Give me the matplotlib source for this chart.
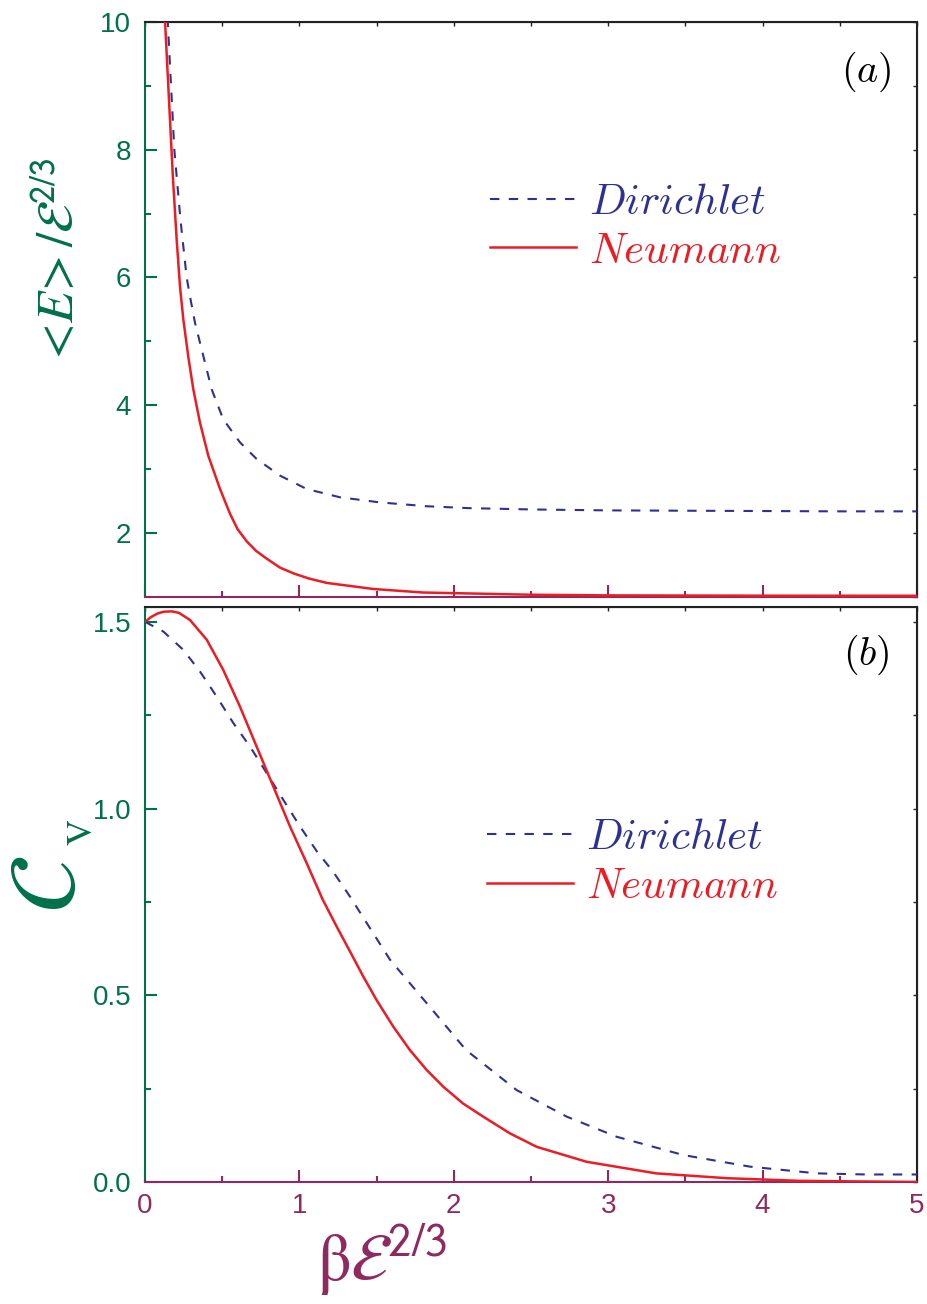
import numpy as np
import matplotlib
matplotlib.use('Agg')
import matplotlib.pyplot as plt
from matplotlib.ticker import MultipleLocator, FormatStrFormatter
from matplotlib.font_manager import FontProperties

# ------------------------------------------------------------------------------------------
# data

# (a) mean energy <E>/eps^(2/3) vs beta*eps^(2/3)
x_e_dir = [0.135, 0.149, 0.19, 0.23, 0.27, 0.291, 0.324, 0.378, 0.432, 0.507, 0.615, 0.723,
           0.874, 1.047, 1.263, 1.522, 1.824, 2.1, 2.5, 3.0, 3.5, 4.0, 4.5, 5.0]
e_dir = [10.6, 9.93, 8.0, 6.9, 6.0, 5.71, 5.29, 4.77, 4.25, 3.78, 3.42, 3.16,
         2.90, 2.69, 2.56, 2.48, 2.42, 2.39, 2.37, 2.355, 2.35, 2.345, 2.34, 2.34]

x_e_neu = [0.11, 0.13, 0.155, 0.18, 0.205, 0.227, 0.248, 0.281, 0.313, 0.356, 0.41, 0.486,
           0.551, 0.60, 0.659, 0.72, 0.788, 0.874, 0.961, 1.06, 1.177, 1.479, 1.80, 2.1,
           2.5, 3.0, 4.0, 5.0]
e_neu = [11.2, 10.0, 8.8, 7.6, 6.6, 5.85, 5.35, 4.75, 4.25, 3.73, 3.21, 2.69,
         2.30, 2.06, 1.87, 1.72, 1.60, 1.46, 1.37, 1.29, 1.22, 1.125, 1.07, 1.055,
         1.035, 1.025, 1.02, 1.019]

# (b) heat capacity C_V vs beta*eps^(2/3)
x_c_dir = [0, 0.119, 0.248, 0.356, 0.464, 0.572, 0.68, 0.788, 0.896, 1.004, 1.112,
           1.22, 1.328, 1.587, 1.824, 2.08, 2.407, 2.731, 3.055, 3.487, 3.918, 4.35, 4.67, 5.0]
c_dir = [1.5, 1.474, 1.425, 1.367, 1.30, 1.229, 1.166, 1.095, 1.023, 0.952, 0.886,
         0.83, 0.764, 0.595, 0.479, 0.353, 0.246, 0.175, 0.121, 0.072, 0.041, 0.023, 0.02, 0.02]

x_c_neu = [0, 0.04, 0.08, 0.12, 0.173, 0.22, 0.291, 0.4, 0.507, 0.615, 0.723, 0.831,
           0.939, 1.047, 1.15, 1.24, 1.328, 1.41, 1.5, 1.608, 1.716, 1.824, 1.932, 2.06,
           2.19, 2.364, 2.537, 2.86, 3.31, 3.77, 4.24, 4.7, 5.0]
c_neu = [1.5, 1.513, 1.522, 1.527, 1.528, 1.524, 1.505, 1.452, 1.371, 1.273, 1.166, 1.059,
         0.952, 0.854, 0.757, 0.685, 0.617, 0.553, 0.487, 0.416, 0.353, 0.30, 0.255, 0.21,
         0.175, 0.13, 0.094, 0.054, 0.023, 0.010, 0.003, 0.001, 0.0]

labels = ['$Dirichlet$', '$Neumann$']

# ------------------------------------------------------------------------------------------
# colours and fonts

green = '#00714a'
purple = '#90295f'
blue = '#2e3192'
red = '#ed1c24'

plt.rcParams['font.family'] = ['Liberation Sans', 'DejaVu Sans']
plt.rcParams['mathtext.fontset'] = 'stix'

fig = plt.figure(figsize=(9.27, 13.04), dpi=100)
ax1 = fig.add_axes([0.1564, 0.5422, 0.8328, 0.4410])
ax2 = fig.add_axes([0.1564, 0.0936, 0.8328, 0.4410])

# ------------------------------------------------------------------------------------------
# axis styling shared by both panels

def style(ax, ylim, ymaj, ymin, show_x):
    ax.set_xlim(0, 5)
    ax.set_ylim(*ylim)
    ax.spines['left'].set_color(green)
    ax.spines['bottom'].set_color(purple)
    ax.spines['top'].set_color('#222222')
    ax.spines['right'].set_color('#222222')
    for s in ax.spines.values():
        s.set_linewidth(1.5)

    ax.xaxis.set_major_locator(MultipleLocator(1))
    ax.xaxis.set_minor_locator(MultipleLocator(0.5))
    ax.yaxis.set_major_locator(MultipleLocator(ymaj))
    ax.yaxis.set_minor_locator(MultipleLocator(ymin))

    ax.tick_params(axis='x', which='both', direction='in', colors=purple, width=1.5,
                   labelsize=20, pad=8, top=False)
    ax.tick_params(axis='y', which='both', direction='in', colors=green, width=1.5,
                   labelsize=20, pad=10, right=False)
    ax.tick_params(which='major', length=8.5)
    ax.tick_params(which='minor', length=4.5)
    if not show_x:
        ax.tick_params(axis='x', labelbottom=False)

    # small black ticks on the top and right frame
    top = ax.secondary_xaxis('top')
    top.set_xticks(np.arange(0, 5.01, 0.5))
    top.tick_params(direction='in', length=3, width=1, colors='#222222', labeltop=False)
    right = ax.secondary_yaxis('right')
    right.set_yticks(np.arange(ylim[0], ylim[1] + 1e-9, ymin))
    right.tick_params(direction='in', length=3, width=1, colors='#222222', labelright=False)


def legend(ax, anchor):
    leg = ax.legend(labels, loc='center left', bbox_to_anchor=anchor, frameon=False,
                    prop=FontProperties(size=31, math_fontfamily='cm'),
                    labelcolor='linecolor', handlelength=2.0, handletextpad=0.3,
                    labelspacing=0.2, borderpad=0, borderaxespad=0)
    return leg

# ------------------------------------------------------------------------------------------
# panel (a)

ax1.plot(x_e_dir, e_dir, color=blue, lw=1.5, ls=(0, (4.5, 4.5)), zorder=3)
ax1.plot(x_e_neu, e_neu, color=red, lw=1.8, zorder=3)
style(ax1, (1, 10), 2, 1, False)
legend(ax1, (0.447, 0.643))
ax1.text(0.934, 0.913, r'$(a)$', transform=ax1.transAxes, ha='center', va='center',
         fontsize=29, math_fontfamily='cm')

# panel (b)

ax2.plot(x_c_dir, c_dir, color=blue, lw=1.5, ls=(0, (4.5, 4.5)), zorder=3)
ax2.plot(x_c_neu, c_neu, color=red, lw=1.8, zorder=3)
style(ax2, (0, 1.54), 0.5, 0.25, True)
ax2.yaxis.set_major_formatter(FormatStrFormatter('%.1f'))
legend(ax2, (0.443, 0.555))
ax2.text(0.934, 0.917, r'$(b)$', transform=ax2.transAxes, ha='center', va='center',
         fontsize=29, math_fontfamily='cm')

# ------------------------------------------------------------------------------------------
# axis titles

fig.text(60 / 927, 1 - 262 / 1304, r'$<\!E\!>/\mathcal{E}^{\mathsf{2/3}}$', rotation=90,
         color=green, fontsize=37, ha='center', va='center')
# C_V drawn as big script C plus a small V subscript
fig.text(50 / 927, 1 - 884 / 1304, r'$\mathcal{C}$', rotation=90,
         color=green, fontsize=68, ha='center', va='center')
fig.text(83 / 927, 1 - 832 / 1304, r'$\mathrm{V}$', rotation=90,
         color=green, fontsize=26, ha='center', va='center')
fig.text(382 / 927, 1 - 1260 / 1304, r'$\mathrm{\beta}\mathcal{E}^{\mathsf{2/3}}$',
         color=purple, fontsize=48, ha='center', va='center')

fig.savefig('out.png', dpi=100)
